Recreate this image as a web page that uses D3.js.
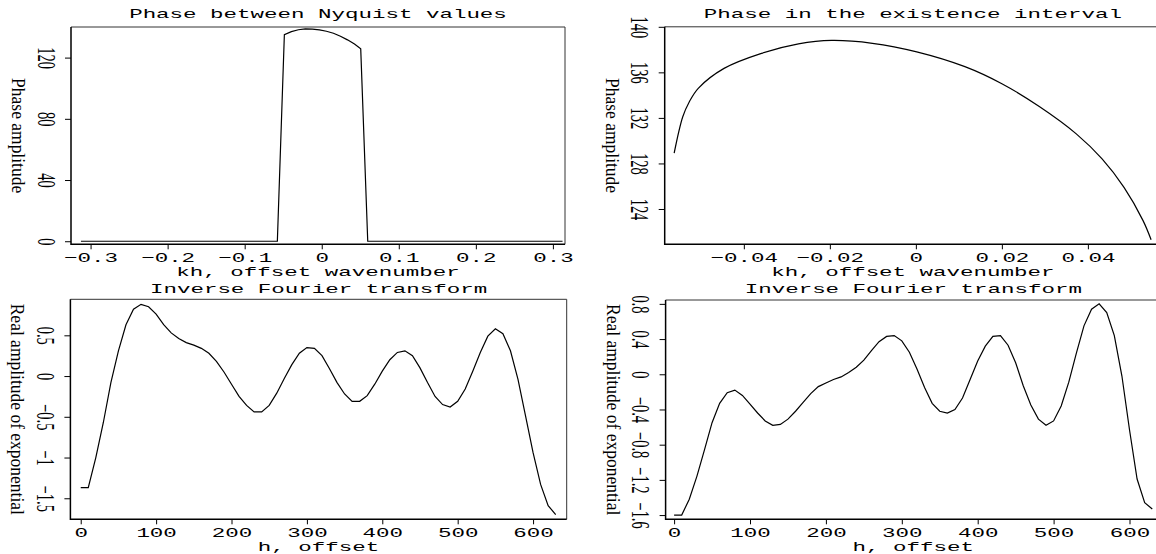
<!DOCTYPE html>
<html>
<head>
<meta charset="utf-8">
<script src="https://cdn.jsdelivr.net/npm/d3@7"></script>
<style>
  body { margin: 0; background: #fff; }
  svg { display: block; }
</style>
</head>
<body>
<svg id="chart" width="1156" height="554"></svg>
<script>
// ---- data ----
// top left: phase between Nyquist values
const nyqKh = [-0.3125, -0.0576, -0.0485, -0.0394, -0.0303, -0.0212, -0.0121, -0.0030,
               0.0061, 0.0152, 0.0243, 0.0334, 0.0425, 0.0506, 0.0597, 0.3125];
const nyqPhase = [0, 0, 135.0, 137.0, 138.2, 138.75, 138.65, 138.1,
                  137.2, 135.9, 134.0, 131.6, 128.9, 125.7, 0, 0];
const nyqXTicks = [-0.3, -0.2, -0.1, 0, 0.1, 0.2, 0.3];
const nyqXLabels = ["\u22120.3", "\u22120.2", "\u22120.1", "0", "0.1", "0.2", "0.3"];
const nyqYTicks = [0, 40, 80, 120];
const nyqYLabels = ["0", "40", "80", "120"];

// top right: phase in the existence interval
const existKh = [-0.0562, -0.0542, -0.0527, -0.0506, -0.0446, -0.0359, -0.0273, -0.0196, -0.0101,
                 0.0002, 0.0114, 0.0200, 0.0287, 0.0373, 0.0433, 0.0484, 0.0528, 0.0547];
const existPhase = [128.9, 132.1, 133.4, 134.6, 136.35, 137.67, 138.5, 138.8, 138.55,
                    137.8, 136.5, 135.0, 133.0, 130.6, 128.4, 125.9, 123.0, 121.3];
const existXTicks = [-0.04, -0.02, 0, 0.02, 0.04];
const existXLabels = ["\u22120.04", "\u22120.02", "0", "0.02", "0.04"];
const existYTicks = [124, 128, 132, 136, 140];
const existYLabels = ["124", "128", "132", "136", "140"];

// bottom: inverse Fourier transforms, offset h
const offsetH = [0, 10, 20, 30, 40, 50, 60, 70, 80, 90, 100, 110, 120, 130, 140, 150,
                 160, 170, 180, 190, 200, 210, 220, 230, 240, 250, 260, 270, 280, 290, 300, 310,
                 320, 330, 340, 350, 360, 370, 380, 390, 400, 410, 420, 430, 440, 450, 460, 470,
                 480, 490, 500, 510, 520, 530, 540, 550, 560, 570, 580, 590, 600, 610, 620, 630];
const ifftLeft = [-1.37, -1.37, -1.0, -0.57, -0.08, 0.31, 0.63, 0.82, 0.88, 0.85, 0.76, 0.63, 0.53, 0.46, 0.41, 0.38,
                  0.34, 0.28, 0.18, 0.05, -0.10, -0.25, -0.36, -0.44, -0.44, -0.36, -0.21, -0.03, 0.14, 0.28, 0.35, 0.34,
                  0.25, 0.09, -0.08, -0.22, -0.31, -0.31, -0.24, -0.10, 0.06, 0.20, 0.29, 0.31, 0.25, 0.10, -0.08, -0.25,
                  -0.35, -0.38, -0.31, -0.16, 0.06, 0.29, 0.49, 0.58, 0.52, 0.31, -0.04, -0.49, -0.94, -1.33, -1.59, -1.70];
const ifftRight = [-1.60, -1.60, -1.42, -1.16, -0.86, -0.55, -0.33, -0.21, -0.18, -0.24, -0.34, -0.44, -0.53, -0.58, -0.57, -0.51,
                   -0.42, -0.32, -0.22, -0.14, -0.10, -0.06, -0.03, 0.02, 0.08, 0.16, 0.27, 0.37, 0.43, 0.44, 0.38, 0.25,
                   0.06, -0.15, -0.33, -0.42, -0.44, -0.40, -0.27, -0.06, 0.15, 0.32, 0.43, 0.44, 0.33, 0.13, -0.13, -0.35,
                   -0.51, -0.58, -0.53, -0.36, -0.09, 0.24, 0.55, 0.74, 0.80, 0.70, 0.44, -0.02, -0.63, -1.19, -1.46, -1.53];
const hTicks = [0, 100, 200, 300, 400, 500, 600];
const hLabels = ["0", "100", "200", "300", "400", "500", "600"];
const leftYTicks = [0.5, 0, -0.5, -1, -1.5];
const leftYLabels = ["0.5", "0", "\u22120.5", "\u22121", "\u22121.5"];
const rightYTicks = [0.8, 0.4, 0, -0.4, -0.8, -1.2, -1.6];
const rightYLabels = ["0.8", "0.4", "0", "\u22120.4", "\u22120.8", "\u22121.2", "\u22121.6"];

// ---- styling ----
const MONO = "'Liberation Mono', 'DejaVu Sans Mono', monospace";
const SERIF = "'Liberation Serif', 'DejaVu Serif', serif";
const SX = 1.73;            // horizontal stretch of the plot lettering
const MONO_SIZE = "13px";

const svg = d3.select("#chart");

function drawPanel(p) {
    const g = svg.append("g");
    const x = d3.scaleLinear().domain(p.xDom).range(p.xRange);
    const y = d3.scaleLinear().domain(p.yDom).range(p.yRange);
    const [x0, x1] = p.xRange;
    const [yb, yt] = p.yRange;

    // frame top + right
    g.append("path")
        .attr("d", `M${x0},${yt}H${x1}V${yb}`)
        .attr("fill", "none")
        .attr("stroke", "#333")
        .attr("stroke-width", 1);

    // x axis
    const xa = g.append("g")
        .attr("transform", `translate(0,${yb})`)
        .call(d3.axisBottom(x).tickValues(p.xTicks)
            .tickFormat((d, i) => p.xLabels[i]).tickSize(5).tickSizeOuter(0));
    xa.select(".domain").remove();
    xa.selectAll(".tick line").attr("stroke", "#000");
    xa.selectAll(".tick text")
        .attr("y", null).attr("dy", null)
        .attr("transform", `translate(0,18) scale(${SX},1)`)
        .attr("text-anchor", "middle")
        .style("font-family", MONO).style("font-size", MONO_SIZE).attr("fill", "#000");

    // y axis
    const ya = g.append("g")
        .attr("transform", `translate(${x0},0)`)
        .call(d3.axisLeft(y).tickValues(p.yTicks)
            .tickFormat((d, i) => p.yLabels[i]).tickSize(6).tickSizeOuter(0));
    ya.select(".domain").remove();
    ya.selectAll(".tick line").attr("stroke", "#000");
    ya.selectAll(".tick text")
        .attr("x", null).attr("dy", null)
        .attr("transform", "translate(-33.5,0) rotate(90) scale(1,1.72)")
        .attr("text-anchor", "middle")
        .style("font-family", SERIF).style("font-size", "14.4px").attr("fill", "#000");

    // left + bottom axis lines
    g.append("path")
        .attr("d", `M${x0},${yt}V${yb}H${x1}`)
        .attr("fill", "none")
        .attr("stroke", "#000")
        .attr("stroke-width", 1.5);

    // curve
    const pts = p.xs.map((v, i) => [v, p.ys[i]]);
    g.append("path")
        .datum(pts)
        .attr("fill", "none")
        .attr("stroke", "#000")
        .attr("stroke-width", 1.2)
        .attr("d", d3.line().x(d => x(d[0])).y(d => y(d[1])).curve(p.curve || d3.curveLinear));

    const cx = (x0 + x1) / 2;
    // title
    g.append("text")
        .attr("transform", `translate(${cx},${p.titleY}) scale(${SX},1)`)
        .attr("text-anchor", "middle")
        .style("font-family", MONO).style("font-size", MONO_SIZE)
        .text(p.title);
    // x label
    g.append("text")
        .attr("transform", `translate(${cx},${yb + 31.5}) scale(${SX},1)`)
        .attr("text-anchor", "middle")
        .style("font-family", MONO).style("font-size", MONO_SIZE)
        .text(p.xLabel);
    // y label
    g.append("text")
        .attr("transform", `translate(${x0 - 59},${(yt + yb) / 2}) rotate(90) scale(1,1.12)`)
        .attr("text-anchor", "middle")
        .style("font-family", SERIF).style("font-size", "17.5px")
        .text(p.yLabel);
}

drawPanel({
    xs: nyqKh, ys: nyqPhase,
    xDom: [-0.3254, 0.3157], xRange: [71, 565],
    yDom: [-2, 140], yRange: [244.3, 27],
    xTicks: nyqXTicks, xLabels: nyqXLabels, yTicks: nyqYTicks, yLabels: nyqYLabels,
    title: "Phase between Nyquist values", titleY: 18.3,
    xLabel: "kh, offset wavenumber", yLabel: "Phase amplitude"
});

drawPanel({
    xs: existKh, ys: existPhase, curve: d3.curveCatmullRom.alpha(0.5),
    xDom: [-0.0584, 0.0570], xRange: [664.7, 1161],
    yDom: [120.9, 140], yRange: [244.3, 26.8],
    xTicks: existXTicks, xLabels: existXLabels, yTicks: existYTicks, yLabels: existYLabels,
    title: "Phase in the existence interval", titleY: 18.3,
    xLabel: "kh, offset wavenumber", yLabel: "Phase amplitude"
});

drawPanel({
    xs: offsetH, ys: ifftLeft,
    xDom: [-13.7, 644.6], xRange: [70.4, 566.7],
    yDom: [-1.758, 0.942], yRange: [519.3, 299.3],
    xTicks: hTicks, xLabels: hLabels, yTicks: leftYTicks, yLabels: leftYLabels,
    title: "Inverse Fourier transform", titleY: 292.6,
    xLabel: "h, offset", yLabel: "Real amplitude of exponential"
});

drawPanel({
    xs: offsetH, ys: ifftRight,
    xDom: [-11.2, 641.5], xRange: [665.6, 1161],
    yDom: [-1.648, 0.844], yRange: [519.3, 300],
    xTicks: hTicks, xLabels: hLabels, yTicks: rightYTicks, yLabels: rightYLabels,
    title: "Inverse Fourier transform", titleY: 292.6,
    xLabel: "h, offset", yLabel: "Real amplitude of exponential"
});
</script>
</body>
</html>
